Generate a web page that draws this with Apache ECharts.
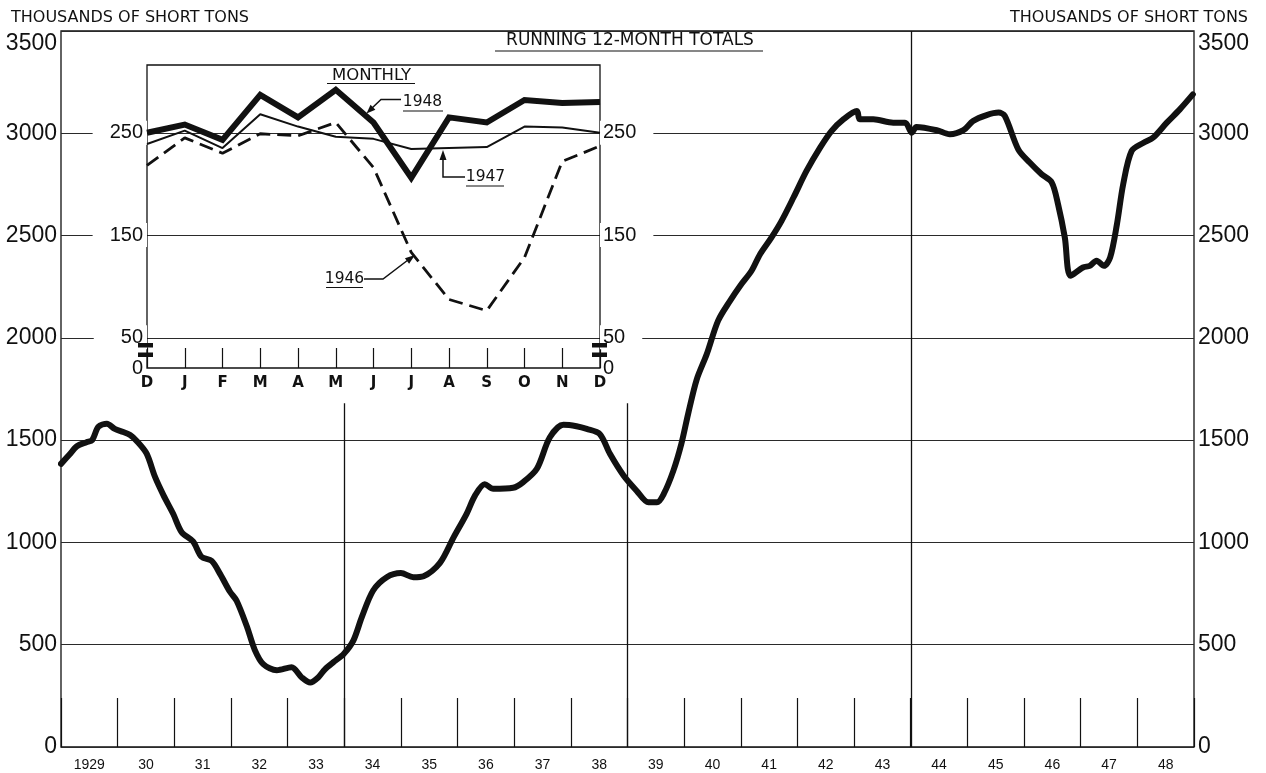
<!DOCTYPE html>
<html><head><meta charset="utf-8">
<script src="https://cdn.jsdelivr.net/npm/echarts@6/dist/echarts.min.js"></script>
<style>html,body{margin:0;padding:0;background:#fff}#c{width:1266px;height:773px}</style>
</head><body><div id="c"></div><script>
// ---- Data ----
const yearLabels = ['1929','30','31','32','33','34','35','36','37','38','39','40','41','42','43','44','45','46','47','48'];
const runYears = [1929.00,1929.15,1929.28,1929.45,1929.55,1929.66,1929.81,1929.95,1930.10,1930.22,1930.34,1930.51,1930.66,1930.81,1930.98,
  1931.13,1931.33,1931.48,1931.66,1931.81,1931.98,1932.10,1932.28,1932.42,1932.57,1932.81,1933.07,1933.25,1933.40,1933.54,1933.66,1933.81,1933.99,
  1934.16,1934.31,1934.51,1934.75,1935.00,1935.22,1935.40,1935.69,1935.93,1936.16,1936.31,1936.48,1936.63,1936.98,1937.16,1937.40,1937.63,1937.87,
  1938.10,1938.28,1938.51,1938.69,1938.93,1939.16,1939.37,1939.52,1939.64,1939.81,1939.95,1940.07,1940.22,1940.40,1940.60,1940.81,1940.99,
  1941.19,1941.34,1941.54,1941.72,1941.93,1942.16,1942.40,1942.60,1942.81,1943.05,1943.10,1943.34,1943.69,1943.90,1944.02,1944.10,1944.46,1944.69,1944.93,
  1945.10,1945.34,1945.55,1945.66,1945.90,1946.10,1946.31,1946.49,1946.60,1946.72,1946.82,1947.04,1947.16,1947.28,1947.41,1947.52,1947.64,1947.75,1947.90,
  1948.11,1948.28,1948.52,1948.75,1948.98];
const runTotals = [1384,1430,1470,1490,1500,1565,1580,1555,1540,1525,1495,1435,1320,1230,1140,
  1050,1005,930,910,845,760,715,590,475,405,375,390,340,315,340,380,415,455,
  520,635,765,830,850,830,835,900,1025,1140,1230,1285,1262,1267,1295,1360,1514,1575,
  1568,1555,1530,1433,1327,1253,1196,1196,1237,1351,1481,1628,1795,1921,2084,2181,2255,
  2328,2409,2490,2572,2686,2816,2930,3011,3068,3109,3068,3068,3052,3052,3003,3031,3015,2995,3015,
  3060,3089,3101,3085,2920,2857,2800,2759,2653,2490,2303,2344,2352,2377,2352,2393,2556,2751,2914,
  2954,2979,3052,3117,3190];
const dividerYears = [1934, 1939, 1944];
const dividerTops = [1680, 1680, 3500];

const monthLabels = ['D','J','F','M','A','M','J','J','A','S','O','N','D'];
const monthly1948 = [250,258,243,287,265,292,260,206,265,260,282,279,280];
const monthly1947 = [239,252,235,268,256,246,244,234,235,236,256,255,250];
const monthly1946 = [218,245,230,249,247,260,216,133,87,76,128,222,237];
const insetLabelValues = [20, 50, 150, 250]; // 20 = bottom of broken axis, shown as 0
const insetMin = 20, insetMax = 316.2;

// ---- Chart ----
const chart = echarts.init(document.getElementById('c'), null, {renderer:'canvas'});
const FONT = '"Liberation Sans", Arial, sans-serif';
const INK = '#111';

const mainYLabel = () => ({
  fontSize: 23, fontFamily: FONT, color: INK, margin: 4,
  formatter: v => v === 3500 ? '{t|3500}' : '{n|' + v + '}',
  rich: { t: {fontSize: 23, fontFamily: FONT, color: INK, padding: [26,0,0,0]},
          n: {fontSize: 23, fontFamily: FONT, color: INK} }
});

const insetYLabel = (left) => ({
  margin: 0,
  formatter: v => (v === insetMin ? '{z|0}' : (v < 100 ? '{s|' : '{g|') + v + '}'),
  customValues: insetLabelValues,
  rich: {
    z: {fontSize: 20, fontFamily: FONT, color: INK, padding: left ? [0,4,0,0] : [0,0,0,3]},
    g: {fontSize: 20, fontFamily: FONT, color: INK, backgroundColor: '#fff',
        padding: left ? [2,4,2,17] : [2,17,2,3]},
    s: {fontSize: 20, fontFamily: FONT, color: INK, backgroundColor: '#fff',
        padding: left ? [2,4,2,27] : [2,17,2,3]}
  }
});

const markData = dividerYears.map((y, i) => [{coord:[y, dividerTops[i]]}, {coord:[y, 0]}]);

function arrowHead(tip, from, len, hw) {
  const dx = tip[0]-from[0], dy = tip[1]-from[1], L = Math.hypot(dx, dy);
  const ux = dx/L, uy = dy/L, bx = tip[0]-len*ux, by = tip[1]-len*uy;
  return [tip, [bx - hw*uy, by + hw*ux], [bx + hw*uy, by - hw*ux]];
}
const TF = '"DejaVu Sans", sans-serif';
const txt = (t, x, y, align, size, weight) => ({type:'text', x, y, z:100,
  style:{text:t, font:(weight||'normal') + ' ' + size + 'px ' + TF, fill:INK, textAlign:align, textVerticalAlign:'middle'}});
const ln = (x1,y1,x2,y2,w) => ({type:'line', z:100, shape:{x1,y1,x2,y2}, style:{stroke:INK, lineWidth:w||1.2}});
const pl = (pts) => ({type:'polyline', z:100, shape:{points:pts}, style:{stroke:INK, lineWidth:1.5, fill:null}});
const pg = (pts) => ({type:'polygon', z:100, shape:{points:pts}, style:{fill:INK}});
const rc = (x,y,w,h) => ({type:'rect', z:100, shape:{x,y,width:w,height:h}, style:{fill:INK}});

const option = {
  animation: false,
  backgroundColor: '#fff',
  grid: [
    {left: 61, right: 72, top: 31, bottom: 26, show: true, borderColor: INK, borderWidth: 1.3, backgroundColor: 'transparent'},
    {left: 147, top: 65, width: 453, height: 303, show: true, borderColor: INK, borderWidth: 1.3, backgroundColor: 'transparent', z: 3}
  ],
  xAxis: [
    {type: 'category', gridIndex: 0, data: yearLabels, boundaryGap: true,
     axisLine: {show: false},
     axisTick: {show: true, inside: true, length: 49, lineStyle: {color: INK, width: 1.2}},
     axisLabel: {fontSize: 14, fontFamily: FONT, color: INK, margin: 11},
     splitLine: {show: false}},
    {type: 'value', gridIndex: 0, min: 1929, max: 1949, show: false},
    {type: 'category', gridIndex: 1, data: monthLabels, boundaryGap: false, z: 3,
     axisLine: {show: false},
     axisTick: {show: true, inside: true, length: 20, lineStyle: {color: INK, width: 1.2}},
     axisLabel: {fontSize: 15, fontWeight: 'bold', fontFamily: TF, color: INK, margin: 8},
     splitLine: {show: false}}
  ],
  yAxis: [
    {type: 'value', gridIndex: 0, position: 'left', min: 0, max: 3500, interval: 500,
     axisLine: {show: false}, axisTick: {show: false},
     axisLabel: mainYLabel(),
     splitLine: {show: true, lineStyle: {color: '#2a2a2a', width: 1.2}}},
    {type: 'value', gridIndex: 0, position: 'right', min: 0, max: 3500, interval: 500,
     axisLine: {show: false}, axisTick: {show: false},
     axisLabel: mainYLabel(),
     splitLine: {show: false}},
    {type: 'value', gridIndex: 1, position: 'left', min: insetMin, max: insetMax, z: 5,
     axisLine: {show: false}, axisTick: {show: false, customValues: insetLabelValues},
     axisLabel: insetYLabel(true), splitLine: {show: false}},
    {type: 'value', gridIndex: 1, position: 'right', min: insetMin, max: insetMax, z: 5,
     axisLine: {show: false}, axisTick: {show: false, customValues: insetLabelValues},
     axisLabel: insetYLabel(false), splitLine: {show: false}}
  ],
  series: [
    {type: 'line', name: 'Running 12-month totals', xAxisIndex: 1, yAxisIndex: 0,
     data: runYears.map((y, i) => [y, runTotals[i]]),
     showSymbol: false, symbol: 'none', smooth: 0.3,
     lineStyle: {color: INK, width: 6, join: 'round', cap: 'round'}, z: 4,
     markLine: {silent: true, symbol: ['none','none'], label: {show: false},
       lineStyle: {color: INK, width: 1.3, type: 'solid'}, data: markData}},
    {type: 'line', name: '1946', xAxisIndex: 2, yAxisIndex: 2, data: monthly1946,
     symbol: 'none', lineStyle: {color: INK, width: 2.8, type: [14, 7]}, z: 6},
    {type: 'line', name: '1947', xAxisIndex: 2, yAxisIndex: 2, data: monthly1947,
     symbol: 'none', lineStyle: {color: INK, width: 2}, z: 7},
    {type: 'line', name: '1948', xAxisIndex: 2, yAxisIndex: 2, data: monthly1948,
     symbol: 'none', lineStyle: {color: INK, width: 6, join: 'miter'}, z: 8}
  ],
  graphic: [
    txt('THOUSANDS OF SHORT TONS', 11, 18, 'left', 16),
    txt('THOUSANDS OF SHORT TONS', 1248, 18, 'right', 16),
    txt('RUNNING 12-MONTH TOTALS', 630, 41, 'center', 17),
    ln(495, 51, 763, 51),
    txt('MONTHLY', 371.5, 75.5, 'center', 16.5),
    ln(327, 83.5, 415, 83.5),
    txt('1948', 422.5, 102, 'center', 15.5),
    ln(403, 111, 443, 111),
    pl([[401, 99.5], [381, 99.5], [371, 109]]),
    pg(arrowHead([366.5, 113.5], [381, 99.5], 9, 3.5)),
    txt('1947', 485.5, 177, 'center', 15.5),
    ln(466, 186, 504, 186),
    pl([[465, 177], [443, 177], [443, 158]]),
    pg(arrowHead([443, 150], [443, 177], 10, 3.5)),
    txt('1946', 344.5, 279, 'center', 15.5),
    ln(326, 287.5, 363, 287.5),
    pl([[364, 279], [383, 279], [408, 260]]),
    pg(arrowHead([415, 255], [383, 279], 10, 3.5)),
    rc(138, 343, 15, 4.5), rc(138, 352.5, 15, 4.5),
    rc(592, 343, 15, 4.5), rc(592, 352.5, 15, 4.5)
  ]
};
chart.setOption(option);
</script></body></html>
